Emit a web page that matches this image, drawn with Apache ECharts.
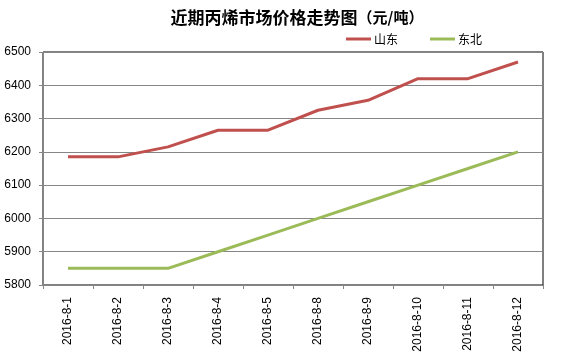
<!DOCTYPE html>
<html><head><meta charset="utf-8">
<script src="https://cdn.jsdelivr.net/npm/echarts@6/dist/echarts.min.js"></script>
<style>html,body{margin:0;padding:0;background:#fff}#c{width:568px;height:358px}</style>
</head><body><div id="c"></div>
<script>
var categories = ['2016-8-1','2016-8-2','2016-8-3','2016-8-4','2016-8-5','2016-8-8','2016-8-9','2016-8-10','2016-8-11','2016-8-12'];
var shandong = [6185, 6185, 6215, 6265, 6265, 6325, 6355, 6420, 6420, 6470];
var dongbei = [5850, 5850, 5850, 5900, 5950, 6000, 6050, 6100, 6150, 6200];
var yTicks = {min: 5800, max: 6500, interval: 100};

var chart = echarts.init(document.getElementById('c'));
chart.setOption({
  animation: false,
  title: {
    text: '{a|近期丙烯市场价格走势图}{b|（元/吨）}',
    left: 292, top: 4, textAlign: 'center',
    textStyle: {
      rich: {
        a: {fontFamily: 'Noto Sans CJK SC', fontSize: 17, fontWeight: 'bold', color: '#000'},
        b: {fontFamily: 'Noto Sans CJK SC', fontSize: 15, color: '#000'}
      }
    }
  },
  legend: {
    left: 341, top: 28, itemWidth: 25, itemHeight: 3, itemGap: 32,
    icon: 'rect',
    textStyle: {fontFamily: 'Noto Sans CJK SC', fontSize: 12, color: '#000', padding: [0,0,0,-2]},
    data: ['山东', '东北']
  },
  grid: {left: 43, right: 25, top: 52, bottom: 73, show: true, borderColor: '#000', borderWidth: 1},
  xAxis: {
    type: 'category', data: categories, boundaryGap: true,
    axisLine: {lineStyle: {color: '#868686'}},
    axisTick: {show: true, alignWithLabel: false, length: 4, lineStyle: {color: '#868686'}},
    axisLabel: {rotate: 90, interval: 0, fontFamily: 'Liberation Sans', fontSize: 12, color: '#000', margin: 12}
  },
  yAxis: {
    type: 'value', min: yTicks.min, max: yTicks.max, interval: yTicks.interval,
    axisLine: {show: true, lineStyle: {color: '#868686'}},
    axisTick: {show: true, length: 4, lineStyle: {color: '#868686'}},
    axisLabel: {fontFamily: 'Liberation Sans', fontSize: 12, color: '#000', margin: 12, formatter: function (v) { return String(v); }},
    splitLine: {lineStyle: {color: '#868686'}}
  },
  series: [
    {name: '山东', type: 'line', data: shandong, symbol: 'none', lineStyle: {width: 3, color: '#C0504D'}, itemStyle: {color: '#C0504D'}},
    {name: '东北', type: 'line', data: dongbei, symbol: 'none', lineStyle: {width: 3, color: '#9BBB59'}, itemStyle: {color: '#9BBB59'}}
  ]
});
</script></body></html>
